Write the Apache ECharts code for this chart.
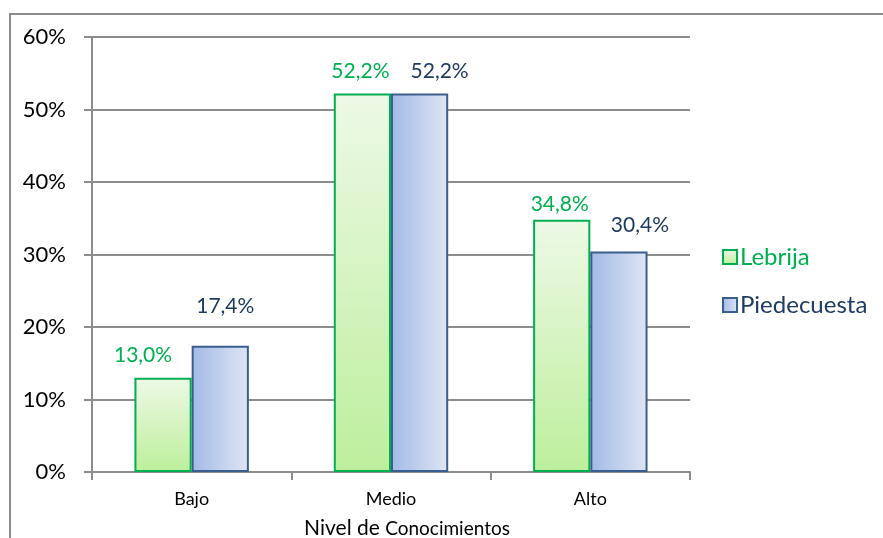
<!DOCTYPE html>
<html><head><meta charset="utf-8">
<script src="https://cdn.jsdelivr.net/npm/echarts@6/dist/echarts.min.js"></script>
<style>html,body{margin:0;padding:0;background:#fff}#c{width:883px;height:538px}</style>
</head><body><div id="c"></div>
<script>
const categories = ['Bajo', 'Medio', 'Alto'];
const lebrija = [13.0, 52.2, 34.8];
const piedecuesta = [17.4, 52.2, 30.4];
const yTicks = [0, 10, 20, 30, 40, 50, 60];
const lebrijaLabelOffsets = [[-20, -12], [-2, -12], [-2, -5]];
const piedecuestaLabelOffsets = [[5, -29], [20, -12], [21, -16]];

const FONT = 'Lato, "Open Sans", sans-serif';
const chart = echarts.init(document.getElementById('c'));
const fmt = v => v.toFixed(1).replace('.', ',') + '%';

function mk(vals, offs) {
  return vals.map((v, i) => ({ value: v, label: { offset: offs[i] } }));
}

chart.setOption({
  animation: false,
  graphic: [{
    type: 'rect', shape: { x: 10, y: 14, width: 900, height: 560 },
    style: { fill: 'none', stroke: '#8c8c8c', lineWidth: 2 }, z: -1
  }],
  grid: { left: 92, top: 37, right: 193, bottom: 66, outerBoundsMode: 'none', containLabel: false },
  legend: {
    orient: 'vertical', left: 717, top: 239, itemWidth: 14, itemHeight: 14, itemGap: 22,
    icon: 'rect',
    data: [
      { name: 'Lebrija', textStyle: { color: '#00B050' } },
      { name: 'Piedecuesta', textStyle: { color: '#1F3B63' } }
    ],
    textStyle: { fontFamily: FONT, fontSize: 24, lineHeight: 26, padding: [0, 0, 0, -2] }
  },
  xAxis: {
    type: 'category', data: categories,
    axisLine: { lineStyle: { color: '#8c8c8c', width: 2 } },
    axisTick: { show: true, length: 8, lineStyle: { color: '#8c8c8c', width: 2 } },
    axisLabel: { color: '#000', fontFamily: FONT, fontSize: 18, margin: 18 },
    name: '{a|Nivel de }{b|Conocimientos}', nameLocation: 'middle', nameGap: 46,
    nameTextStyle: {
      padding: [0, 0, 0, 32],
      rich: {
        a: { fontFamily: FONT, fontSize: 21, color: '#000' },
        b: { fontFamily: FONT, fontSize: 19, color: '#000' }
      }
    }
  },
  yAxis: {
    type: 'value', min: 0, max: 60, interval: 10,
    axisLine: { show: true, lineStyle: { color: '#8c8c8c', width: 2 } },
    axisTick: { show: true, length: 8, lineStyle: { color: '#8c8c8c', width: 2 } },
    splitLine: { lineStyle: { color: '#8c8c8c', width: 2 } },
    axisLabel: {
      color: '#000', fontFamily: FONT, fontSize: 22, margin: 26,
      formatter: v => yTicks.includes(v) ? v + '%' : ''
    }
  },
  series: [
    {
      name: 'Lebrija', type: 'bar', data: mk(lebrija, lebrijaLabelOffsets),
      barWidth: '28.7%', barGap: '0%',
      itemStyle: {
        color: new echarts.graphic.LinearGradient(0, 0, 0, 1, [
          { offset: 0, color: '#EDF9E6' }, { offset: 1, color: '#BDEF9C' }
        ]),
        borderColor: '#00B050', borderWidth: 2
      },
      label: {
        show: true, position: 'top', distance: 0, color: '#00B050',
        fontFamily: FONT, fontSize: 21, formatter: p => fmt(p.value)
      }
    },
    {
      name: 'Piedecuesta', type: 'bar', data: mk(piedecuesta, piedecuestaLabelOffsets),
      barWidth: '28.7%',
      itemStyle: {
        color: new echarts.graphic.LinearGradient(0, 0, 1, 0, [
          { offset: 0, color: '#A2B9E6' }, { offset: 1, color: '#DEE6F4' }
        ]),
        borderColor: '#3A5F8E', borderWidth: 2
      },
      label: {
        show: true, position: 'top', distance: 0, color: '#1F3B63',
        fontFamily: FONT, fontSize: 21, formatter: p => fmt(p.value)
      }
    }
  ]
});
</script></body></html>
